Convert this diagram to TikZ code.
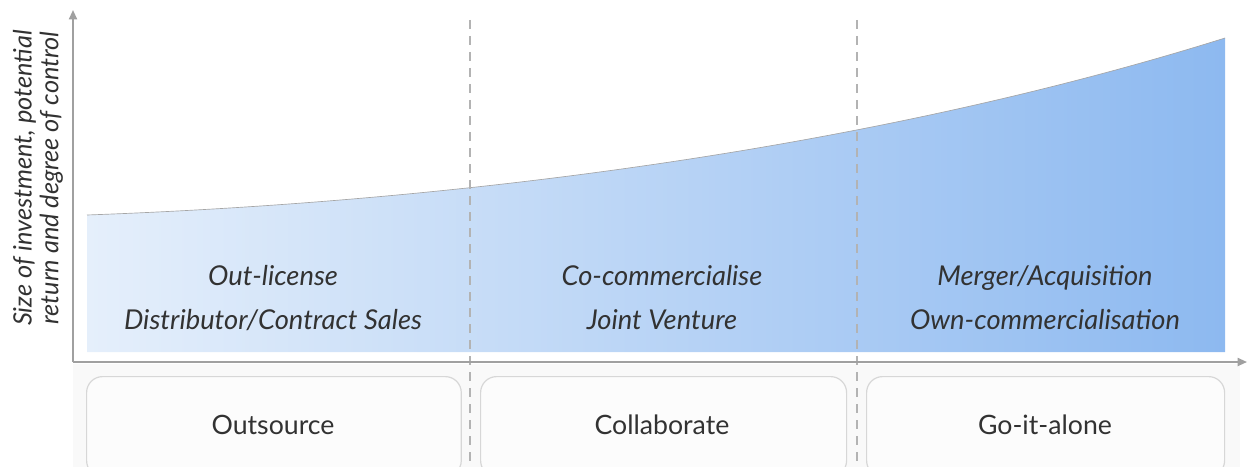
\documentclass[tikz,border=0pt]{standalone}
\usepackage{fontspec}
\setmainfont{Lato}
\usetikzlibrary{arrows.meta}
\definecolor{axisgray}{RGB}{160,160,160}
\definecolor{boxline}{RGB}{215,215,215}
\definecolor{boxfill}{RGB}{252,252,252}
\definecolor{stripgray}{RGB}{249,249,249}
\definecolor{txt}{RGB}{50,50,50}
\definecolor{gradL}{RGB}{229,239,251}
\definecolor{gradR}{RGB}{141,185,240}
\tikzset{
  axis/.style={draw=axisgray, line width=1.4pt, -{Triangle[length=7pt,width=6pt]}},
  divider/.style={draw=axisgray!80, line width=0.9pt, dash pattern=on 7pt off 5pt},
  catbox/.style={draw=boxline, fill=boxfill, rounded corners=12pt, line width=0.9pt, minimum width=281pt, minimum height=75pt, anchor=north west, inner sep=0pt},
  cattext/.style={font=\fontsize{20}{24}\selectfont, text=txt},
  opt/.style={font=\fontsize{20.5}{33}\selectfont\itshape, text=txt, align=center},
}
\begin{document}
\begin{tikzpicture}[x=0.75pt,y=-0.75pt]
\useasboundingbox (0,0) rectangle (1249,467);
% light strip under axis
\fill[stripgray] (73,364) rectangle (1240,467);
% shaded area
\shade[left color=gradL, right color=gradR]
  (87,352) -- (87,215) .. controls (500,200) and (900,140) .. (1225,38) -- (1225,352) -- cycle;
\draw[gray!70, line width=0.5pt] (87,215) .. controls (500,200) and (900,140) .. (1225,38);
% dividers
\coordinate (d1t) at (470,20); \coordinate (d1b) at (470,467);
\coordinate (d2t) at (857,20); \coordinate (d2b) at (857,467);
\draw[divider] (d1t) -- (d1b);
\draw[divider] (d2t) -- (d2b);
% axes
\coordinate (o) at (73,362);
\coordinate (ytop) at (73,10);
\coordinate (xend) at (1247,362);
\draw[axis] (o) -- (ytop);
\draw[axis] (o) -- (xend);
% option texts
\node[opt] (t1) at (273,298) {Out-license\\Distributor/Contract Sales};
\node[opt] (t2) at (662,298) {Co-commercialise\\Joint Venture};
\node[opt] (t3) at (1045,298) {Merger/Acquisition\\Own-commercialisation};
% y label
\node[font=\fontsize{19}{20}\selectfont\itshape, text=txt, align=center, rotate=90] (ylab) at (38,178) {Size of investment, potential\\return and degree of control};
% category boxes
\node[catbox] (b1) at (86,376) {};
\node[catbox, minimum width=274.5pt] (b2) at (480,376) {};
\node[catbox, minimum width=268.5pt] (b3) at (866,376) {};
\node[cattext] (l1) at (273,425) {Outsource};
\node[cattext] (l2) at (662,425) {Collaborate};
\node[cattext] (l3) at (1045,425) {Go-it-alone};
\end{tikzpicture}
\end{document}
